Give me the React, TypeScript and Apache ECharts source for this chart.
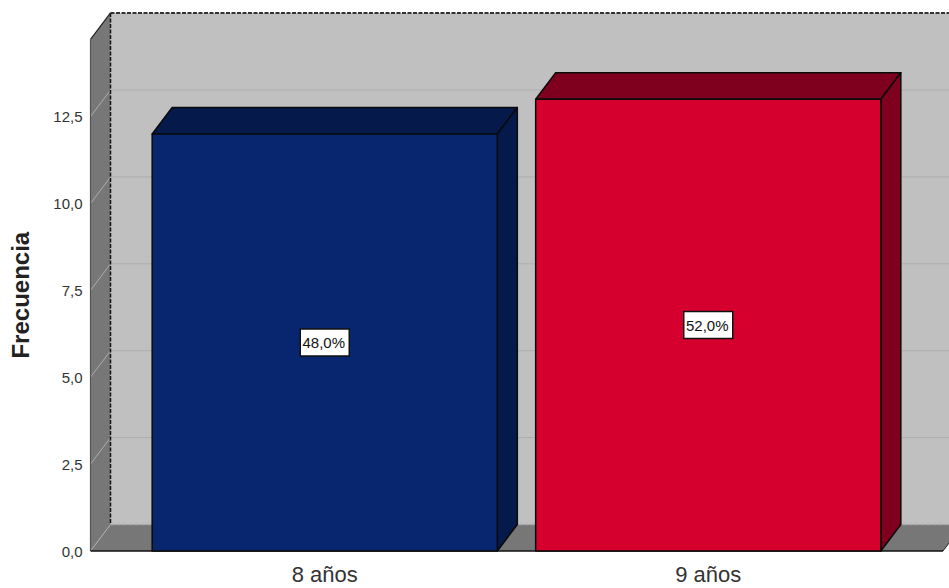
import React, { useEffect, useRef } from "react";
import * as echarts from "echarts";

const categories = ["8 años", "9 años"];
const frequencies = [12, 13];
const percentLabels = ["48,0%", "52,0%"];
const frontColors = ["#08266f", "#d6002f"];
const topColors = ["#051a4a", "#7e001e"];
const sideColors = ["#051a4a", "#7e001e"];
const yTicks = [0, 2.5, 5, 7.5, 10, 12.5];
const yMax = 14.72;
const yAxisTitle = "Frecuencia";

const DX = 20;
const DY = -26.5;
const FRONT_LEFT = 90.5;
const FRONT_RIGHT = 943;
const OUTLINE = "#0a0a0a";

function renderWalls(_params: any, api: any) {
  const bottom = api.coord([0, 0])[1];
  const top = api.coord([0, yMax])[1];
  const children: any[] = [
    {
      type: "rect",
      shape: { x: FRONT_LEFT + DX, y: top + DY, width: FRONT_RIGHT - FRONT_LEFT, height: bottom - top },
      style: { fill: "#c0c0c0" },
    },
    {
      type: "polygon",
      shape: {
        points: [
          [FRONT_LEFT, top],
          [FRONT_LEFT + DX, top + DY],
          [FRONT_LEFT + DX, bottom + DY],
          [FRONT_LEFT, bottom],
        ],
      },
      style: { fill: "#777777" },
    },
    {
      type: "polygon",
      shape: {
        points: [
          [FRONT_LEFT, bottom],
          [FRONT_LEFT + DX, bottom + DY],
          [FRONT_RIGHT + DX, bottom + DY],
          [FRONT_RIGHT, bottom],
        ],
      },
      style: { fill: "#777777" },
    },
  ];
  yTicks.forEach((t) => {
    const y = api.coord([0, t])[1];
    children.push({
      type: "polyline",
      shape: {
        points: [
          [FRONT_LEFT, y],
          [FRONT_LEFT + DX, y + DY],
          ...(t === 0 ? [] : [[FRONT_RIGHT + DX, y + DY]]),
        ],
      },
      style: { fill: "none", stroke: "#adadad", lineWidth: 1 },
    });
  });
  children.push(
    {
      type: "line",
      shape: { x1: FRONT_LEFT + DX, y1: bottom + DY, x2: FRONT_RIGHT + DX, y2: bottom + DY },
      style: { stroke: "#a8a8a8", lineWidth: 1.5, lineDash: [4, 2] },
    },
    {
      type: "line",
      shape: { x1: FRONT_LEFT + DX, y1: top + DY, x2: FRONT_RIGHT + DX, y2: top + DY },
      style: { stroke: "#333", lineWidth: 2, lineDash: [4, 1.5] },
    },
    {
      type: "line",
      shape: { x1: FRONT_LEFT + DX, y1: top + DY, x2: FRONT_LEFT + DX, y2: bottom + DY },
      style: { stroke: "#111", lineWidth: 1.5, lineDash: [4, 1.5] },
    },
    {
      type: "line",
      shape: { x1: FRONT_LEFT, y1: top, x2: FRONT_LEFT + DX, y2: top + DY },
      style: { stroke: "#222", lineWidth: 1.2 },
    },
    {
      type: "line",
      shape: { x1: FRONT_LEFT, y1: top, x2: FRONT_LEFT, y2: bottom },
      style: { stroke: "#555", lineWidth: 1.2 },
    },
    {
      type: "line",
      shape: { x1: FRONT_RIGHT, y1: bottom, x2: FRONT_RIGHT + DX, y2: bottom + DY },
      style: { stroke: "#222", lineWidth: 1 },
    },
    {
      type: "line",
      shape: { x1: FRONT_LEFT, y1: bottom, x2: FRONT_RIGHT, y2: bottom },
      style: { stroke: "#111", lineWidth: 1.5 },
    }
  );
  return { type: "group", children };
}

function renderBar(params: any, api: any) {
  const i = api.value(0);
  const [cx, yTop] = api.coord([i, api.value(1)]);
  const yBase = api.coord([i, 0])[1];
  const half = (api.size([1, 0])[0] * 0.9) / 2;
  const x0 = cx - half;
  const x1 = cx + half;
  const edge = { stroke: OUTLINE, lineWidth: 1.5, lineJoin: "round" };
  return {
    type: "group",
    children: [
      {
        type: "polygon",
        shape: { points: [[x0, yTop], [x0 + DX, yTop + DY], [x1 + DX, yTop + DY], [x1, yTop]] },
        style: { fill: topColors[i], ...edge },
      },
      {
        type: "polygon",
        shape: { points: [[x1, yTop], [x1 + DX, yTop + DY], [x1 + DX, yBase + DY], [x1, yBase]] },
        style: { fill: sideColors[i], ...edge },
      },
      {
        type: "rect",
        shape: { x: x0, y: yTop, width: x1 - x0, height: yBase - yTop },
        style: { fill: frontColors[i], ...edge },
      },
      {
        type: "rect",
        shape: { x: cx - 24.5, y: (yTop + yBase) / 2 - 13.5, width: 49, height: 27 },
        style: { fill: "#ffffff", stroke: "#111", lineWidth: 1.5 },
      },
      {
        type: "text",
        x: cx - 1,
        y: (yTop + yBase) / 2 + 0.5,
        style: {
          text: percentLabels[i],
          fill: "#111",
          font: "15px 'Liberation Sans', Arial, sans-serif",
          align: "center",
          verticalAlign: "middle",
        },
      },
    ],
  };
}

export default function App() {
  const ref = useRef<HTMLDivElement>(null);
  useEffect(() => {
    document.body.style.margin = "0";
    const chart = echarts.init(ref.current!, undefined, { renderer: "svg" });
    chart.setOption({
      animation: false,
      backgroundColor: "#ffffff",
      grid: { left: 133, width: 767, top: 39.4, height: 511.6 },
      xAxis: {
        type: "category",
        data: categories,
        axisLine: { show: false },
        axisTick: { show: false },
        axisLabel: { color: "#333", fontSize: 22, fontFamily: "Liberation Sans", margin: 12 },
      },
      yAxis: {
        type: "value",
        min: 0,
        max: yMax,
        interval: 2.5,
        offset: 42.5,
        splitLine: { show: false },
        axisLine: { show: false },
        axisTick: { show: false },
        name: yAxisTitle,
        nameLocation: "middle",
        nameGap: 58,
        nameTextStyle: { color: "#222", fontSize: 24, fontWeight: "bold", fontFamily: "Liberation Sans" },
        axisLabel: {
          color: "#333",
          fontSize: 15,
          fontFamily: "Liberation Sans",
          margin: 8,
          padding: [7, 0, 0, 0],
          showMaxLabel: false,
          formatter: (v: number) => v.toFixed(1).replace(".", ","),
        },
      },
      series: [
        {
          type: "custom",
          name: "walls",
          silent: true,
          clip: false,
          z: 1,
          data: [[0, 0]],
          renderItem: renderWalls,
        },
        {
          type: "custom",
          name: "Frecuencia",
          clip: false,
          z: 2,
          data: frequencies.map((v, i) => [i, v]),
          encode: { x: 0, y: 1 },
          renderItem: renderBar,
        },
      ],
    });
    return () => chart.dispose();
  }, []);
  return <div ref={ref} style={{ width: 949, height: 588 }} />;
}
